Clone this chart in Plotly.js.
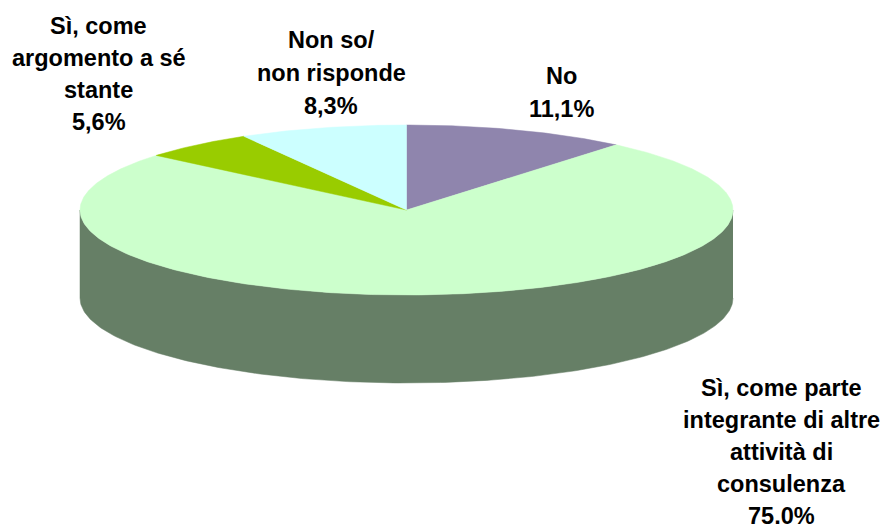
<!DOCTYPE html>
<html><head><meta charset="utf-8">
<script src="https://cdn.plot.ly/plotly-3.0.1.min.js"></script>
<style>html,body{margin:0;padding:0;background:#fff;overflow:hidden}</style>
</head><body><div id="chart" style="width:882px;height:524px"></div>
<script>
// Data, clockwise from 12 o'clock
const categories = ["No", "Sì, come parte integrante di altre attività di consulenza", "Sì, come argomento a sé stante", "Non so/ non risponde"];
const values = [11.1, 75.0, 5.6, 8.3];
const colors = ["#8F85AD", "#CCFFCC", "#99CC00", "#CCFFFF"];
const sideColors = ["#47435A", "#667F66", "#4D6600", "#667F7F"];
const labelLines = [
  ["No", "11,1%"],
  ["Sì, come parte", "integrante di altre", "attività di", "consulenza", "75,0%"],
  ["Sì, come", "argomento a sé", "stante", "5,6%"],
  ["Non so/", "non risponde", "8,3%"]
];
const labelX = [561, 781, 98.5, 331];
const labelY = [76, 388, 26, 40];
const lineGap = [33, 32, 32, 33];

// Pie geometry
const cx = 406.5, cy = 210, rx = 326.5, ry = 85, depth = 88;
const total = values.reduce((a, b) => a + b, 0);
const px = a => cx + rx * Math.sin(a);
const py = (a, d) => cy + (d || 0) - ry * Math.cos(a);

const traces = [];
let start = 0;
const spans = values.map(v => { const s = start; start += v / total * 2 * Math.PI; return [s, start]; });

// Visible outer wall: the part of each slice on the front half of the ellipse
spans.forEach(([a0, a1], i) => {
  const lo = Math.max(a0, Math.PI / 2), hi = Math.min(a1, 3 * Math.PI / 2);
  if (hi <= lo) return;
  const x = [], y = [];
  for (let k = 0; k <= 240; k++) { const a = lo + (hi - lo) * k / 240; x.push(px(a)); y.push(py(a, depth)); }
  for (let k = 240; k >= 0; k--) { const a = lo + (hi - lo) * k / 240; x.push(px(a)); y.push(py(a)); }
  traces.push({ type: "scatter", mode: "lines", x, y, fill: "toself", fillcolor: sideColors[i],
    line: { color: sideColors[i], width: 0.5 }, hoverinfo: "skip", showlegend: false });
});

// Top face of each slice
spans.forEach(([a0, a1], i) => {
  const x = [cx], y = [cy];
  const n = Math.max(8, Math.round((a1 - a0) * 120));
  for (let k = 0; k <= n; k++) { const a = a0 + (a1 - a0) * k / n; x.push(px(a)); y.push(py(a)); }
  x.push(cx); y.push(cy);
  traces.push({ type: "scatter", mode: "lines", x, y, fill: "toself", fillcolor: colors[i], name: categories[i],
    line: { color: colors[i], width: 0.5 }, hoverinfo: "name", showlegend: false });
});

const annotations = [];
labelLines.forEach((lines, i) => lines.forEach((t, j) => annotations.push({
  x: labelX[i], y: labelY[i] + j * lineGap[i], xref: "x", yref: "y", text: "<b>" + t + "</b>", showarrow: false,
  xanchor: "center", yanchor: "middle",
  font: { family: "Liberation Sans, Arial, sans-serif", size: 23.5, color: "#000" }
})));

Plotly.newPlot("chart", traces, {
  width: 882, height: 524, margin: { l: 0, r: 0, t: 0, b: 0 },
  paper_bgcolor: "#fff", plot_bgcolor: "#fff",
  xaxis: { range: [0, 882], visible: false, fixedrange: true },
  yaxis: { range: [524, 0], visible: false, fixedrange: true },
  annotations, showlegend: false
}, { displayModeBar: false, staticPlot: true });
</script></body></html>
